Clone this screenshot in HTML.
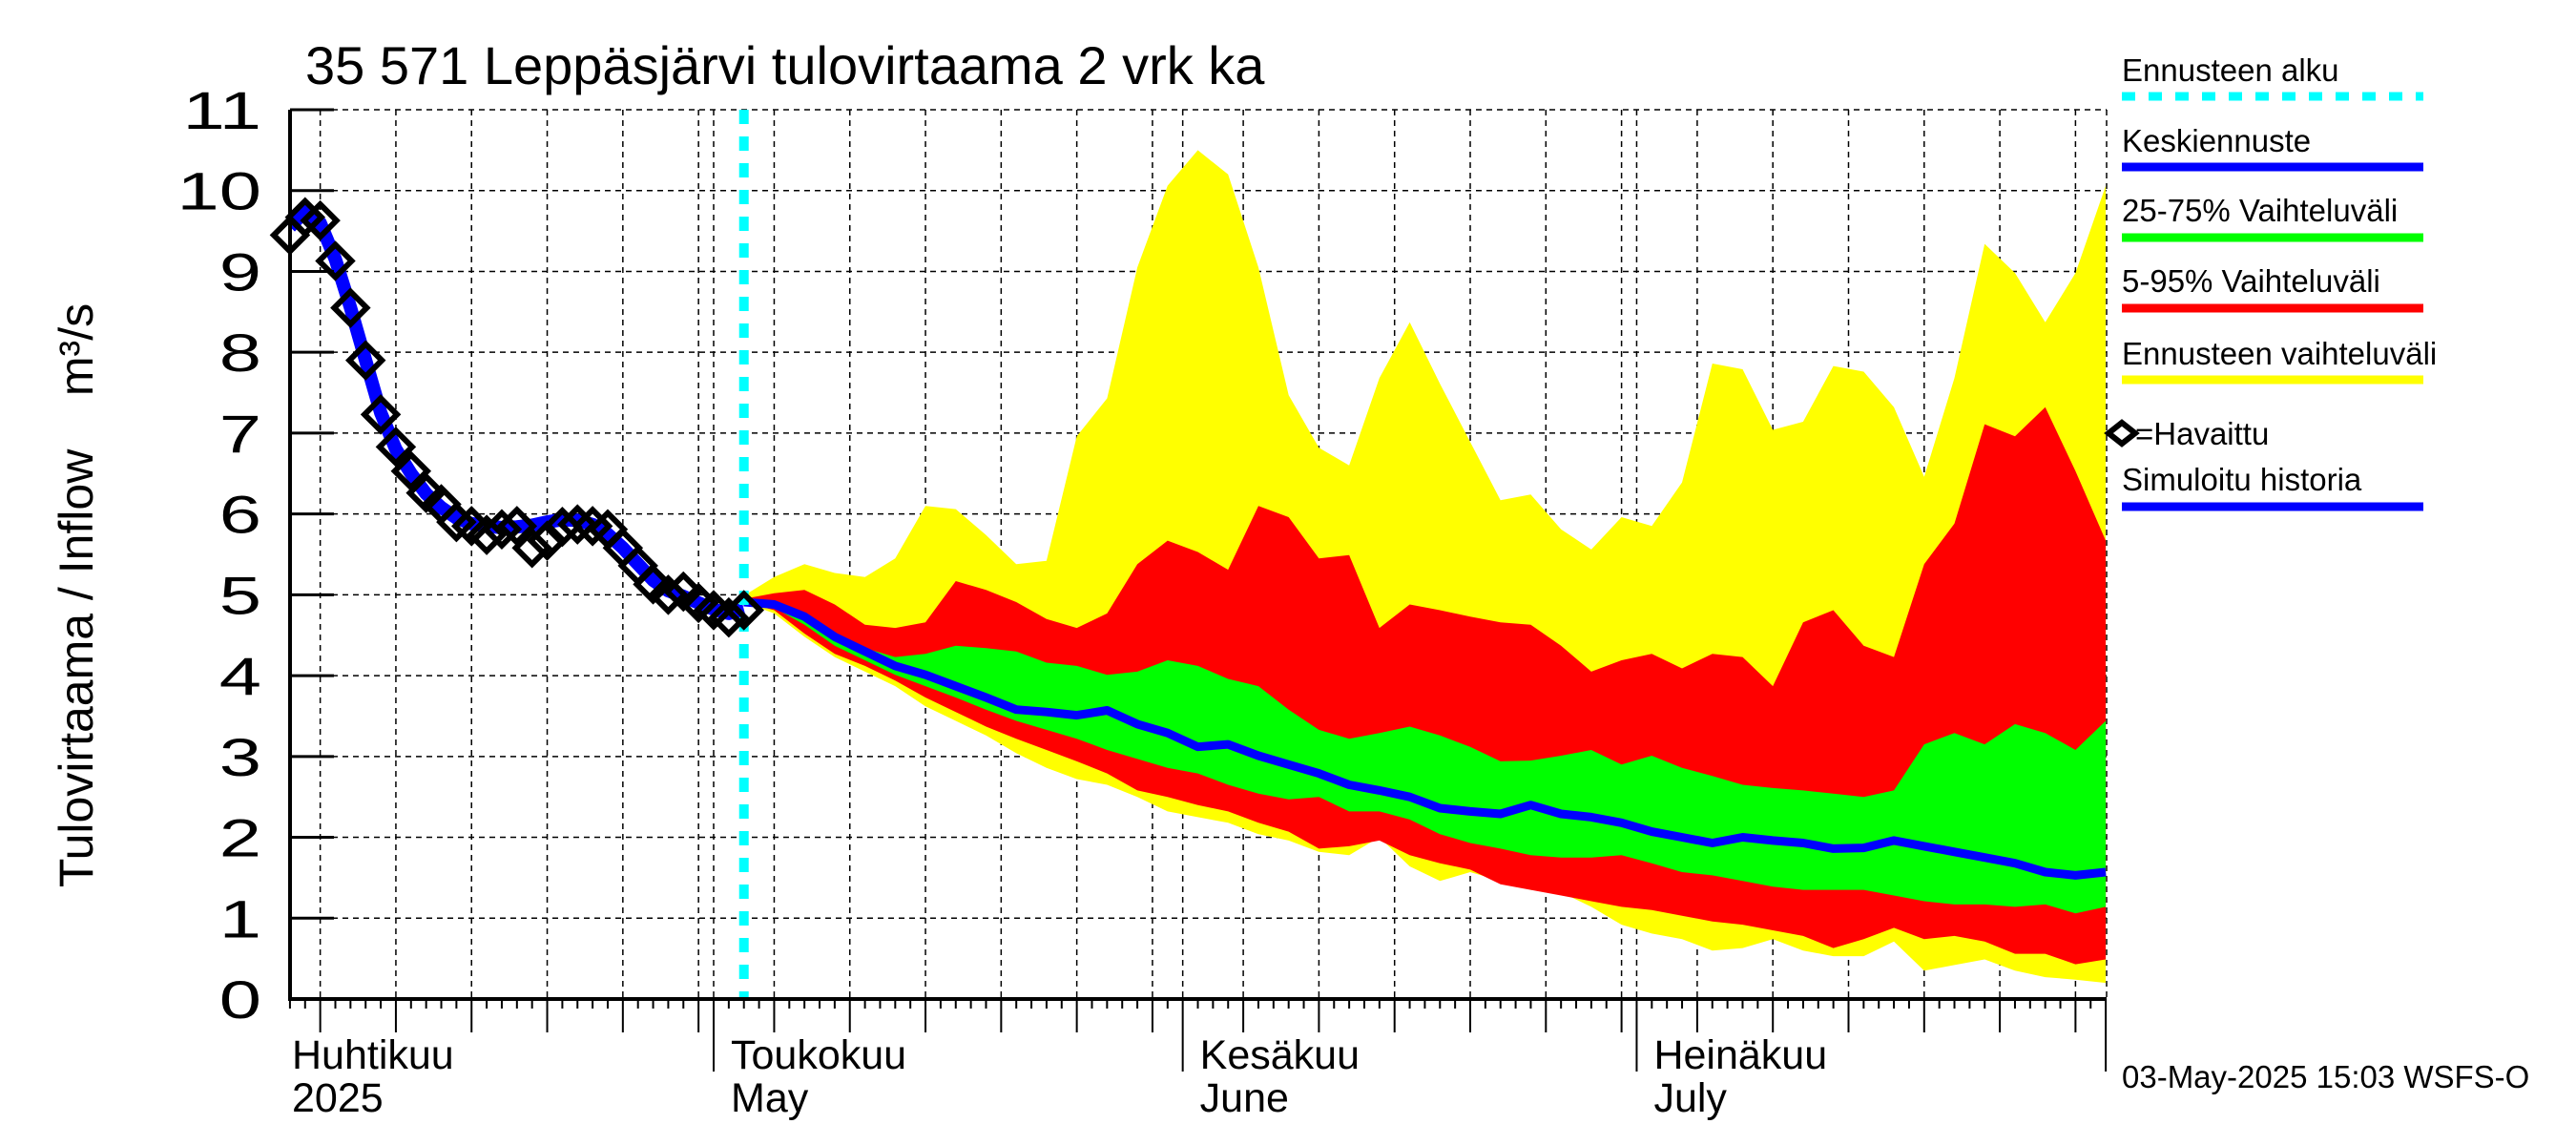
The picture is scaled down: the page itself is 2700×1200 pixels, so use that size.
<!DOCTYPE html>
<html><head><meta charset="utf-8"><title>Leppäsjärvi tulovirtaama</title>
<style>
html,body{margin:0;padding:0;background:#fff;}
svg{display:block;font-family:"Liberation Sans",Arial,sans-serif;}
</style></head>
<body>
<svg id="chart" width="2700" height="1200" viewBox="0 0 2700 1200" xmlns="http://www.w3.org/2000/svg">
<rect x="0" y="0" width="2700" height="1200" fill="#fff"/>
<text x="320" y="88" font-size="56">35 571 Leppäsjärvi tulovirtaama 2 vrk ka</text>
<g id="grid"></g>
<g id="bands"></g>
<g id="lines"></g>
<g id="axes"></g>
<text transform="translate(97,624) rotate(-90)" text-anchor="middle" font-size="50" xml:space="preserve" style="white-space:pre">Tulovirtaama / Inflow    m³/s</text>
<g id="legend">
  <text x="2224" y="85" font-size="33">Ennusteen alku</text>
  <line x1="2224" y1="101" x2="2540" y2="101" stroke="#00ffff" stroke-width="9" stroke-dasharray="14,14"/>
  <text x="2224" y="159" font-size="33">Keskiennuste</text>
  <line x1="2224" y1="175" x2="2540" y2="175" stroke="#0000ff" stroke-width="9"/>
  <text x="2224" y="232" font-size="33">25-75% Vaihteluväli</text>
  <line x1="2224" y1="249" x2="2540" y2="249" stroke="#00ff00" stroke-width="9"/>
  <text x="2224" y="306" font-size="33">5-95% Vaihteluväli</text>
  <line x1="2224" y1="323" x2="2540" y2="323" stroke="#ff0000" stroke-width="9"/>
  <text x="2224" y="382" font-size="33">Ennusteen vaihteluväli</text>
  <line x1="2224" y1="398" x2="2540" y2="398" stroke="#ffff00" stroke-width="9"/>
  <path d="M2224,443 L2238,454 L2224,465 L2210,454 Z" fill="none" stroke="#000" stroke-width="6"/>
  <text x="2238" y="455" dy="11" font-size="33">=Havaittu</text>
  <text x="2224" y="514" font-size="33">Simuloitu historia</text>
  <line x1="2224" y1="531" x2="2540" y2="531" stroke="#0000ff" stroke-width="9"/>
</g>
<text x="2224" y="1140" font-size="33">03-May-2025 15:03 WSFS-O</text>
</svg>
<script>
// ---- data (day index relative to 1 May 2025) ----
const obsDays = [-28,-27,-26,-25,-24,-23,-22,-21,-20,-19,-18,-17,-16,-15,-14,-13,-12,-11,-10,-9,-8,-7,-6,-5,-4,-3,-2,-1,0,1,2];
const obsValues = [9.45,9.67,9.63,9.13,8.55,7.9,7.23,6.83,6.53,6.26,6.12,5.9,5.85,5.74,5.81,5.85,5.58,5.67,5.84,5.87,5.85,5.81,5.58,5.36,5.13,5.0,5.04,4.9,4.81,4.72,4.81];
const simValues = [9.55,9.75,9.6,9.15,8.55,7.9,7.25,6.8,6.5,6.25,6.08,5.95,5.88,5.85,5.83,5.84,5.86,5.9,5.93,5.92,5.87,5.75,5.58,5.38,5.18,5.05,4.98,4.9,4.82,4.77,4.82];
const fcDays = [2,4,6,8,10,12,14,16,18,20,22,24,26,28,30,32,34,36,38,40,42,44,46,48,50,52,54,56,58,60,62,64,66,68,70,72,74,76,78,80,82,84,86,88,90,92];
const maxValues = [4.99,5.22,5.38,5.27,5.22,5.45,6.1,6.06,5.74,5.38,5.42,6.96,7.43,9.05,10.06,10.5,10.2,9.05,7.47,6.82,6.6,7.68,8.37,7.61,6.89,6.17,6.24,5.81,5.56,5.96,5.85,6.39,7.86,7.79,7.04,7.14,7.83,7.76,7.32,6.46,7.68,9.34,8.98,8.37,8.98,10.06];
const p95Values = [4.95,5.02,5.06,4.88,4.63,4.59,4.66,5.17,5.06,4.91,4.7,4.59,4.77,5.38,5.67,5.53,5.31,6.1,5.96,5.45,5.49,4.59,4.88,4.81,4.73,4.66,4.63,4.37,4.05,4.19,4.27,4.09,4.27,4.23,3.87,4.66,4.81,4.37,4.23,5.38,5.88,7.11,6.96,7.32,6.53,5.67];
const p75Values = [4.95,4.91,4.73,4.48,4.34,4.23,4.27,4.37,4.34,4.3,4.16,4.12,4.01,4.05,4.19,4.12,3.96,3.87,3.58,3.33,3.22,3.29,3.37,3.26,3.12,2.94,2.95,3.01,3.08,2.9,3.01,2.86,2.76,2.65,2.61,2.58,2.54,2.5,2.58,3.15,3.29,3.15,3.4,3.29,3.08,3.44];
const medValues = [4.91,4.88,4.73,4.48,4.3,4.12,4.01,3.87,3.73,3.58,3.55,3.51,3.57,3.4,3.29,3.12,3.15,3.01,2.9,2.79,2.65,2.58,2.5,2.36,2.32,2.29,2.4,2.29,2.25,2.18,2.07,2.0,1.93,2.0,1.96,1.93,1.86,1.87,1.96,1.89,1.82,1.75,1.68,1.57,1.53,1.57];
const p25Values = [4.91,4.84,4.63,4.37,4.19,4.01,3.87,3.73,3.58,3.44,3.33,3.22,3.08,2.97,2.86,2.79,2.65,2.54,2.47,2.5,2.32,2.32,2.22,2.04,1.93,1.86,1.78,1.75,1.75,1.78,1.68,1.57,1.53,1.46,1.39,1.35,1.35,1.35,1.28,1.21,1.17,1.17,1.14,1.17,1.06,1.14];
const p5Values = [4.91,4.81,4.52,4.27,4.12,3.94,3.73,3.55,3.37,3.22,3.08,2.94,2.79,2.58,2.5,2.4,2.32,2.18,2.07,1.86,1.89,1.96,1.78,1.68,1.6,1.42,1.35,1.28,1.21,1.14,1.1,1.03,0.96,0.92,0.85,0.78,0.63,0.74,0.88,0.74,0.78,0.71,0.56,0.56,0.43,0.49];
const minValues = [4.91,4.77,4.48,4.23,4.05,3.87,3.62,3.44,3.26,3.04,2.86,2.72,2.65,2.5,2.32,2.25,2.18,2.04,1.96,1.82,1.78,2.0,1.64,1.46,1.57,1.46,1.35,1.32,1.14,0.92,0.81,0.74,0.6,0.63,0.74,0.6,0.53,0.53,0.71,0.35,0.42,0.49,0.35,0.27,0.24,0.2];
const yTicks = [0,1,2,3,4,5,6,7,8,9,10,11];
const monthLabels = [["Huhtikuu","2025"],["Toukokuu","May"],["Kesäkuu","June"],["Heinäkuu","July"]];
const monthDays = [-28,0,31,61];
const forecastStartDay = 2;

// ---- axes ----
const X0 = 304, X1 = 2208, Y0 = 1047, Y1 = 115;
const D0 = -28, DAY = 15.86, VMAX = 11;
const x = d => 748 + (d - 0) * DAY;
const y = v => Y0 - v * (Y0 - Y1) / VMAX;
const NS = "http://www.w3.org/2000/svg";
function mk(tag, attrs, parent){
  const e = document.createElementNS(NS, tag);
  for (const k in attrs) e.setAttribute(k, attrs[k]);
  parent.appendChild(e); return e;
}
const grid = document.getElementById('grid');
const bands = document.getElementById('bands');
const lines = document.getElementById('lines');
const axes = document.getElementById('axes');

yTicks.forEach(v => {
  const g = mk('line', {x1:X0, x2:X1, y1:y(v), y2:y(v), stroke:'#000', 'stroke-width':1.5, 'stroke-dasharray':'6,5'}, grid);
  
  
  const t = mk('line', {x1:X0, x2:X0+46, y1:y(v), y2:y(v), stroke:'#000', 'stroke-width':3}, axes);
  
  
  const l = mk('text', {x:0, y:0, 'text-anchor':'end', 'font-size':56, transform:`translate(274,${(y(v)+20).toFixed(1)}) scale(1.42,1)`}, axes);
  
  
  l.textContent = String(v);
});

const monthStartOffsets = [{m:3, start:-30, len:30},{m:4,start:0,len:31},{m:5,start:31,len:30},{m:6,start:61,len:31}];
const gridDays = [];
monthStartOffsets.forEach(ms => { for (let dd = 5; dd <= 30; dd += 5) { if (dd <= ms.len) gridDays.push(ms.start + dd - 1); } });
gridDays.concat(monthDays.slice(1)).forEach(d => {
  if (x(d) <= X0 || x(d) > X1) return;
  const g = mk('line', {x1:x(d), x2:x(d), y1:Y1, y2:Y0, stroke:'#000', 'stroke-width':1.5, 'stroke-dasharray':'6,5'}, grid);
  
  
});
{
  const g = mk('line', {x1:X1, x2:X1, y1:Y1, y2:Y0, stroke:'#000', 'stroke-width':1.5, 'stroke-dasharray':'6,5'}, grid);
  
  
}

function bandPath(upper, lower){
  let p = '';
  fcDays.forEach((d,i) => { p += (i ? 'L' : 'M') + x(d).toFixed(1) + ',' + y(upper[i]).toFixed(1); });
  for (let i = fcDays.length - 1; i >= 0; i--) p += 'L' + x(fcDays[i]).toFixed(1) + ',' + y(lower[i]).toFixed(1);
  return p + 'Z';
}
const b1 = mk('path', {d:bandPath(maxValues, minValues), fill:'#ffff00'}, bands);


const b2 = mk('path', {d:bandPath(p95Values, p5Values), fill:'#ff0000'}, bands);


const b3 = mk('path', {d:bandPath(p75Values, p25Values), fill:'#00ff00'}, bands);



function linePath(days, vals){
  return days.map((d,i) => (i ? 'L' : 'M') + x(d).toFixed(1) + ',' + y(vals[i]).toFixed(1)).join('');
}
const med = mk('path', {d:linePath(fcDays, medValues), fill:'none', stroke:'#0000ff', 'stroke-width':9, 'stroke-linejoin':'round'}, lines);


const sim = mk('path', {d:linePath(obsDays, simValues), fill:'none', stroke:'#0000ff', 'stroke-width':14, 'stroke-linejoin':'round'}, lines);



const fs = mk('line', {x1:x(forecastStartDay), x2:x(forecastStartDay), y1:Y1, y2:Y0, stroke:'#00ffff', 'stroke-width':10, 'stroke-dasharray':'15,13'}, lines);



obsDays.forEach((d,i) => {
  const cx = x(d), cy = y(obsValues[i]);
  const m = mk('path', {d:`M${cx},${cy-17} L${cx+17},${cy} L${cx},${cy+17} L${cx-17},${cy} Z`, fill:'none', stroke:'#000', 'stroke-width':6}, lines);
  
  
});

const ya = mk('line', {x1:X0, x2:X0, y1:Y1, y2:Y0+2, stroke:'#000', 'stroke-width':4}, axes);


const xa = mk('line', {x1:X0, x2:X1, y1:Y0, y2:Y0, stroke:'#000', 'stroke-width':4}, axes);


for (let d = D0; d <= 92; d++) {
  if (x(d) < X0 - 1 || x(d) > X1 + 1) continue;
  let len = 10;
  if (gridDays.indexOf(d) >= 0) len = 35;
  if (monthDays.indexOf(d) > 0 || d === 92) len = 76;
  const t = mk('line', {x1:x(d), x2:x(d), y1:Y0, y2:Y0+len, stroke:'#000', 'stroke-width':2}, axes);
  
  
}
monthDays.forEach((d,i) => {
  const lx = i === 0 ? 306 : x(d) + 18;
  const t1 = mk('text', {x:lx, y:1120, 'font-size':43}, axes);
  
  
  t1.textContent = monthLabels[i][0];
  const t2 = mk('text', {x:lx, y:1165, 'font-size':43}, axes);
  
  
  t2.textContent = monthLabels[i][1];
});
</script>
</body></html>
